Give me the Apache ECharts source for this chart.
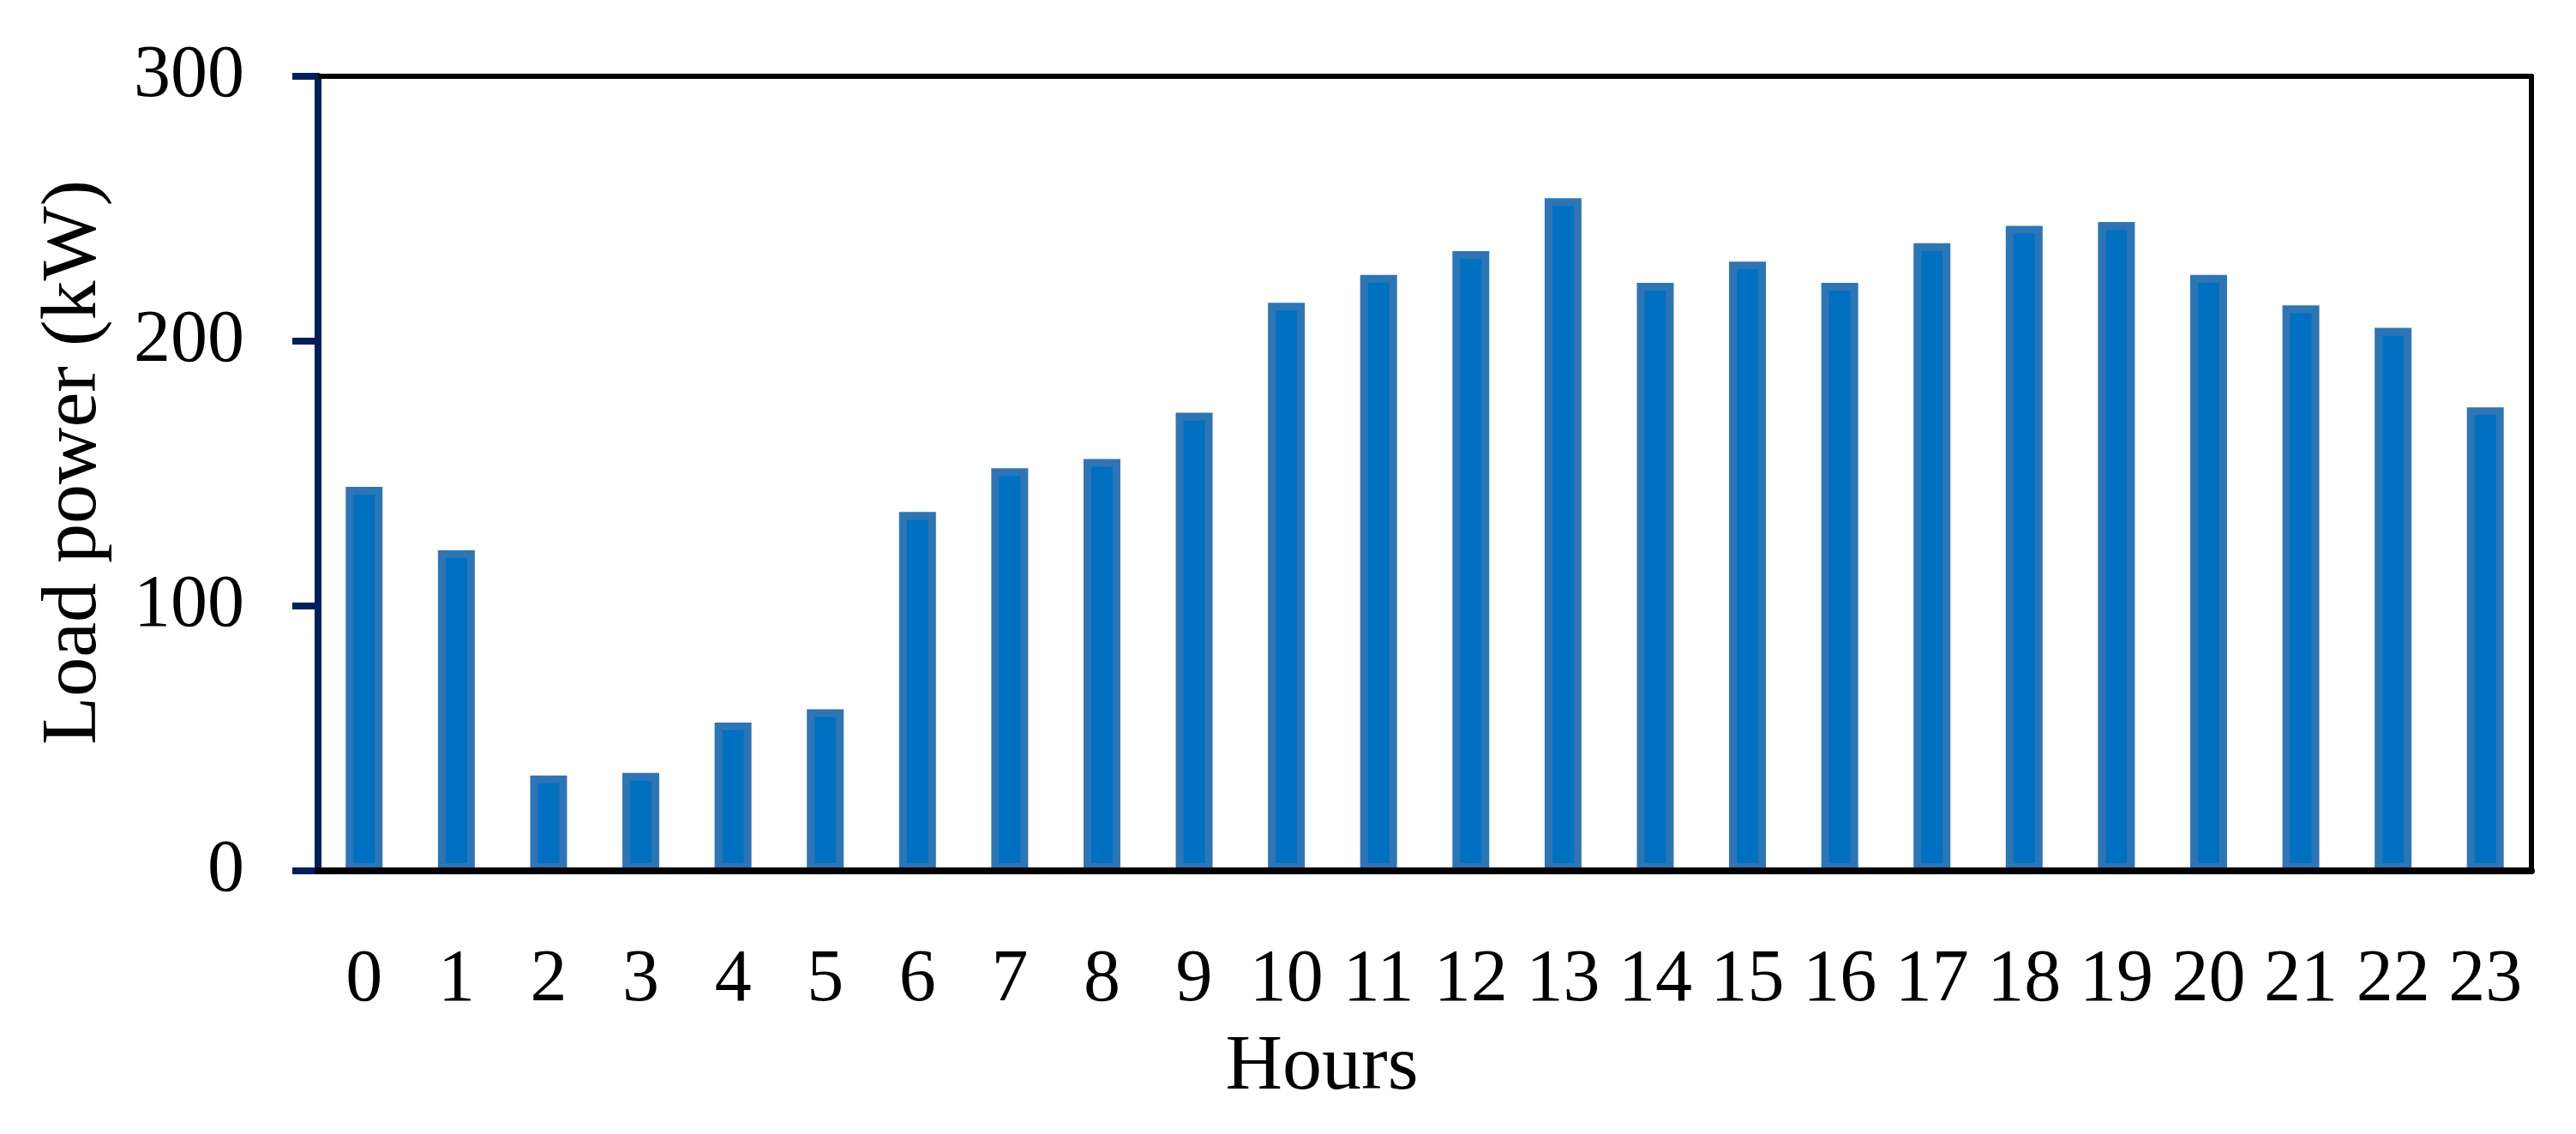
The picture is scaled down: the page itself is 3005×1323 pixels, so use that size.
<!DOCTYPE html>
<html>
<head>
<meta charset="utf-8">
<script src="https://cdn.jsdelivr.net/npm/echarts@6/dist/echarts.min.js"></script>
<style>
  * { margin: 0; padding: 0; }
  body { background: #fff; }
  #chart { width: 3005px; height: 1323px; }
</style>
</head>
<body>
<div id="chart"></div>
<script>
// hours of the day
var hours = ['0','1','2','3','4','5','6','7','8','9','10','11','12','13','14','15','16','17','18','19','20','21','22','23'];
// load power per hour, kW
var loadPower = [145, 121, 36, 37, 56, 61, 135.5, 152, 155.5, 173, 214.5, 225, 234, 254, 222, 230, 222, 237, 243.5, 245, 225, 213.5, 205, 175];
var yTicks = [0, 100, 200, 300];

var font = 'Liberation Serif';
var navy = '#001F5B';

var charts = echarts.init(document.getElementById('chart'));
charts.setOption({
  animation: false,
  backgroundColor: '#ffffff',
  grid: { left: 371, right: 52, top: 89, bottom: 307 },
  xAxis: [
    {
      type: 'category',
      data: hours,
      z: 3,
      axisLine: { lineStyle: { color: '#000', width: 8 } },
      axisTick: { show: false },
      axisLabel: { interval: 0, margin: 85, color: '#000', fontFamily: font, fontSize: 86 },
      name: 'Hours',
      nameLocation: 'middle',
      nameGap: 184,
      nameTextStyle: { color: '#000', fontFamily: font, fontSize: 92, padding: [0, 240, 0, 0] }
    },
    {
      // top border of the frame
      type: 'category',
      data: hours,
      position: 'top',
      axisLine: { onZero: false, lineStyle: { color: '#000', width: 6 } },
      axisTick: { show: false },
      axisLabel: { show: false }
    }
  ],
  yAxis: [
    {
      type: 'value',
      min: yTicks[0],
      max: yTicks[yTicks.length - 1],
      interval: 100,
      splitLine: { show: false },
      axisLine: { show: true, lineStyle: { color: navy, width: 8 } },
      axisTick: { show: true, length: 30, lineStyle: { color: navy, width: 8 } },
      axisLabel: { margin: 86, color: '#000', fontFamily: font, fontSize: 86 },
      name: 'Load power (kW)',
      nameLocation: 'middle',
      nameGap: 238,
      nameTextStyle: { color: '#000', fontFamily: font, fontSize: 92, padding: [0, 0, 0, 26] }
    },
    {
      // right border of the frame
      type: 'value',
      position: 'right',
      min: 0,
      max: 300,
      interval: 100,
      splitLine: { show: false },
      axisLine: { show: true, onZero: false, lineStyle: { color: '#000', width: 6 } },
      axisTick: { show: false },
      axisLabel: { show: false }
    }
  ],
  series: [
    {
      name: 'Load power',
      type: 'bar',
      data: loadPower,
      barWidth: 43,
      itemStyle: {
        color: '#0070C0',
        borderColor: '#2E75B6',
        borderWidth: 9
      }
    }
  ]
});
</script>
</body>
</html>
